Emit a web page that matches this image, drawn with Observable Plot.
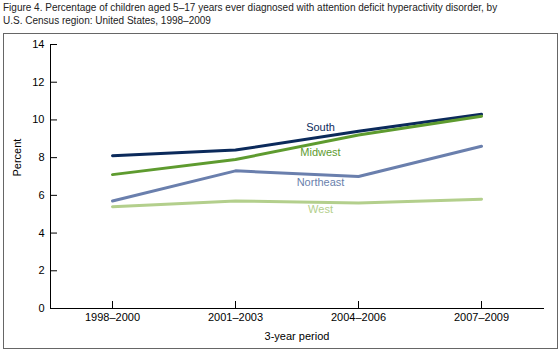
<!DOCTYPE html>
<html><head><meta charset="utf-8">
<script src="https://cdn.jsdelivr.net/npm/d3@7"></script>
<script src="https://cdn.jsdelivr.net/npm/@observablehq/plot@0.6"></script>
<style>
body{margin:0;background:#fff;font-family:Arial,"Liberation Sans",sans-serif;}
#title{position:absolute;left:3px;top:2px;font-size:10px;line-height:12.5px;color:#222;}
#box{position:absolute;left:3px;top:33px;width:553px;height:314px;border:1px solid #666;}
</style></head><body>
<div id="title">Figure 4. Percentage of children aged 5–17 years ever diagnosed with attention deficit hyperactivity disorder, by<br>U.S. Census region: United States, 1998–2009</div>
<div id="box"></div>
<script>
const periods = ["1998–2000","2001–2003","2004–2006","2007–2009"];
const regions = ["South","Midwest","Northeast","West"];
const south = [8.1, 8.4, 9.4, 10.3];
const midwest = [7.1, 7.9, 9.2, 10.2];
const northeast = [5.7, 7.3, 7.0, 8.6];
const west = [5.4, 5.7, 5.6, 5.8];
const colors = ["#0b2a5b","#5e9b2f","#6a7fad","#b3cf8c"];
const yTicks = [0,2,4,6,8,10,12,14];
const labelY = [9.6, 8.3, 6.7, 5.25];

const series = [south, midwest, northeast, west];
const data = [];
regions.forEach((r,i)=>periods.forEach((p,j)=>data.push({region:r, period:p, value:series[i][j]})));
const labels = regions.map((r,i)=>({region:r, period:periods[2], value:labelY[i]}));

const chart = Plot.plot({
  width: 553, height: 314,
  marginLeft: 46, marginRight: 14, marginTop: 10, marginBottom: 40,
  style: {fontFamily: "Arial, 'Liberation Sans', sans-serif", fontSize: "11px", color: "#000"},
  x: {type: "point", domain: periods, padding: 0.5, label: null},
  y: {domain: [0,14], ticks: yTicks, label: null},
  color: {domain: regions, range: colors},
  marks: [
    Plot.axisY({ticks: yTicks, tickSize: -7, tickPadding: 13, tickFormat: d=>d, fontSize: 11}),
    Plot.axisX({tickSize: -7, tickPadding: 12, fontSize: 11}),
    Plot.frame({anchor: "left"}),
    Plot.frame({anchor: "bottom"}),
    Plot.line(data, {x: "period", y: "value", z: "region", stroke: "region", strokeWidth: 3}),
    Plot.text(labels, {x: "period", y: "value", text: "region", fill: "region", dx: -38, fontSize: 11}),
    Plot.text(["3-year period"], {frameAnchor: "bottom", dy: 31, text: d=>d, fontSize: 11}),
    Plot.text(["Percent"], {frameAnchor: "left", dx: -33, rotate: -90, text: d=>d, fontSize: 11})
  ]
});
document.getElementById("box").appendChild(chart);
</script>
</body></html>
